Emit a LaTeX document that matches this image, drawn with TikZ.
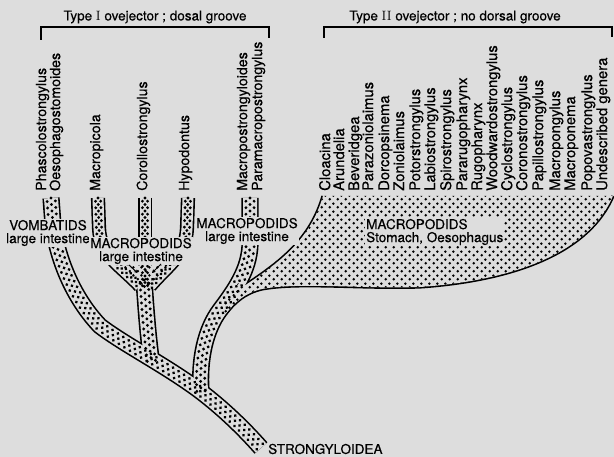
\documentclass[tikz,border=0pt]{standalone}
\usepackage{fontspec}
\newfontfamily\hv{TeX Gyre Heros}[FakeBold=0.4]
\usetikzlibrary{patterns.meta,decorations.markings,arrows.meta}
\definecolor{bg}{RGB}{221,221,221}
\tikzdeclarepattern{
  name=stipple,
  type=uncolored,
  bounding box={(0pt,0pt) and (8pt,8pt)},
  tile size={(8pt,8pt)},
  code={
    \pgfpathcircle{\pgfpoint{2pt}{2pt}}{1.5pt}
    \pgfpathcircle{\pgfpoint{6pt}{6pt}}{1.5pt}
    \pgfusepath{fill}
  }
}
% tube centre lines and region outlines
\def\pA{(51,198) -- (53,225) .. controls (58,262) and (75,300) .. (100,326) .. controls (125,345) and (165,365) .. (200,391) .. controls (225,410) and (245,430) .. (261,448)}
\def\pB{(144,280) .. controls (146,310) and (148,335) .. (151,358)}
\def\pC{(98,198) -- (99,228) .. controls (100,255) and (120,265) .. (140,286)}
\def\pD{(145,198) -- (145,285)}
\def\pE{(188,198) -- (187,228) .. controls (186,255) and (168,265) .. (150,286)}
\def\pG{(250,198) -- (250,245) .. controls (249,270) and (235,290) .. (220,310) .. controls (205,330) and (199,360) .. (201,391)}
\def\pRfill{(244.5,285.7) .. controls (280,262) and (310,240) .. (323,196) -- (613,196) .. controls (590,250) and (520,280) .. (420,287) .. controls (360,289) and (300,282) .. (262,289) .. controls (245,293) and (235,302) .. (225.5,314) -- (221,307) -- (239,282) -- cycle}
\def\pRleft{(244.5,285.7) .. controls (280,262) and (310,240) .. (323,196)}
\def\pRlow{(613,196) .. controls (590,250) and (520,280) .. (420,287) .. controls (360,289) and (300,282) .. (262,289) .. controls (245,293) and (235,302) .. (225.5,314)}
\def\pJ{(118.3,265.3) -- (128.2,274.5) -- (140,286) -- (150,286) -- (160.7,274.5) -- (169.6,265.3) -- cycle}
\begin{document}
\begin{tikzpicture}[x=1pt,y=-1pt,
  lbl/.style={font=\hv\fontsize{13.5}{13}\selectfont, align=center, inner sep=1pt, fill=bg},
  hdr/.style={font=\hv\fontsize{13.5}{13}\selectfont, inner sep=0pt},
  genL/.style={font=\hv\fontsize{14.2}{14}\selectfont, rotate=90, anchor=mid west, inner sep=0pt},
  genR/.style={font=\hv\fontsize{14.8}{14}\selectfont, rotate=90, anchor=mid west, inner sep=0pt},
  outerline/.style={line width=#1+3.2pt, black, line cap=butt},
  innerline/.style={line width=#1, bg, line cap=butt},
  tubedots/.style={decorate, decoration={markings, mark=between positions 0 and 1 step 6.5pt with {\fill[black] (0pt,0pt) circle (1.6pt) (3.25pt,#1) circle (1.6pt) (3.25pt,-#1) circle (1.6pt);}}},
  brk/.style={line width=1.8pt, black}
]
\useasboundingbox (0,0) rectangle (614,457);
\fill[bg] (0,0) rectangle (614,457);

% black outlines
\draw[outerline=14pt] \pA;
\draw[outerline=14pt] \pB;
\draw[outerline=11pt] \pC;
\draw[outerline=11pt] \pD;
\draw[outerline=11pt] \pE;
\draw[outerline=14pt] \pG;
\draw[line width=3.2pt] \pRleft;
\draw[line width=3.2pt] \pRlow;

% interiors
\fill[bg] \pRfill;
\fill[bg] \pJ;
\draw[innerline=14pt] \pA;
\draw[innerline=14pt] \pB;
\draw[innerline=11pt] \pC;
\draw[innerline=11pt] \pD;
\draw[innerline=11pt] \pE;
\draw[innerline=14pt] \pG;

% stipple
\fill[pattern=stipple, pattern color=black] \pRfill;
\fill[pattern=stipple, pattern color=black] \pJ;
\path[tubedots=4.1pt] \pA;
\path[tubedots=4.1pt] \pB;
\path[tubedots=2.6pt] \pC;
\path[tubedots=2.6pt] \pD;
\path[tubedots=2.6pt] \pE;
\path[tubedots=4.1pt] \pG;

% headers
\node[hdr] (h1) at (155,17) {Type \textrm{I} ovejector ; dosal groove};
\node[hdr] (h2) at (455,17) {Type \textrm{II} ovejector ; no dorsal groove};
\coordinate (b1a) at (41,40); \coordinate (b1b) at (269,38);
\coordinate (b2a) at (324,38); \coordinate (b2b) at (612,37);
\draw[brk] (b1a) -- (b1a |- 0,27) -- (b1b |- 0,27) -- (b1b);
\draw[brk] (b2a) -- (b2a |- 0,27) -- (b2b |- 0,27) -- (b2b);

% genera, type I
\node[genL] (l1) at (44,191) {Phascolostrongylus};
\node[genL] (l2) at (58,191) {Oesophagostomoides};
\node[genL] (l3) at (98,191) {Macropicola};
\node[genL] (l4) at (145,191) {Corollostrongylus};
\node[genL] (l5) at (187,191) {Hypodontus};
\node[genL] (l6) at (245,191) {Macropostrongyloides};
\node[genL] (l7) at (260,191) {Paramacropostrongylus};

% genera, type II
\foreach \x/\t [count=\i] in {328/Cloacina, 342/Arundelia, 357/Beveridgea, 371/Parazoniolaimus,
  387/Dorcopsinema, 402/Zoniolaimus, 418/Potorstrongylus, 433/Labiostrongylus,
  449/Spirostrongylus, 465/Pararugopharynx, 480/Rugopharynx, 495/Woodwardostrongylus,
  510/Cyclostrongylus, 525/Coronostrongylus, 541/Papillostrongylus, 558/Macropongylus,
  573/Macroponema, 590/Popovastrongylus, 605/Undescribed genera}
  \node[genR] (r\i) at (\x,191) {\t};

% host labels
\node[lbl] (vomb) at (48,233) {VOMBATIDS\\large intestine};
\node[lbl] (mmid) at (141,251) {MACROPODIDS\\large intestine};
\node[lbl] (mright) at (247,231) {MACROPODIDS\\large intestine};
\node[lbl, align=left, anchor=west] (mstom) at (365,232) {MACROPODIDS\\Stomach, Oesophagus};
\node[hdr, anchor=west] (root) at (268,449) {STRONGYLOIDEA};

% small arrows in the junction
\coordinate (a1s) at (129,265); \coordinate (a1e) at (137.5,273);
\coordinate (a2s) at (161,264); \coordinate (a2e) at (152,273);
\draw[line width=1pt, -{Stealth[length=3.5pt,width=3.5pt]}] (a1s) -- (a1e);
\draw[line width=1pt, -{Stealth[length=3.5pt,width=3.5pt]}] (a2s) -- (a2e);
\end{tikzpicture}
\end{document}
